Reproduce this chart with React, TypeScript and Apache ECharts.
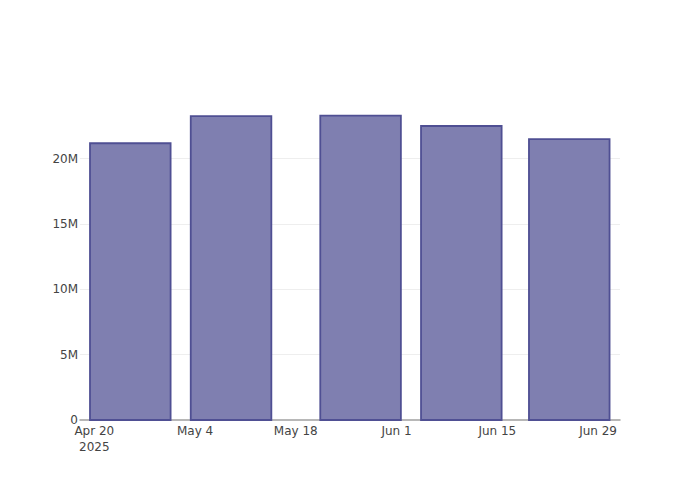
import React, { useEffect, useRef } from "react";
import * as echarts from "echarts";

const dates = ["2025-04-25", "2025-05-09", "2025-05-27", "2025-06-10", "2025-06-25"];
const values = [21.18e6, 23.25e6, 23.29e6, 22.5e6, 21.5e6];
const tickDates = ["2025-04-20", "2025-05-04", "2025-05-18", "2025-06-01", "2025-06-15", "2025-06-29"];
const yTicks = [0, 5e6, 10e6, 15e6, 20e6];

const DAY = 86400000;
const ts = (s: string) => Date.parse(s + "T00:00:00Z");
const MONTHS = ["Jan", "Feb", "Mar", "Apr", "May", "Jun", "Jul", "Aug", "Sep", "Oct", "Nov", "Dec"];

export default function App() {
  const ref = useRef<HTMLDivElement>(null);
  useEffect(() => {
    if (!ref.current) return;
    const chart = echarts.init(ref.current, undefined, { renderer: "svg" });
    const xs = dates.map(ts);
    let minGap = Infinity;
    for (let i = 1; i < xs.length; i++) minGap = Math.min(minGap, xs[i] - xs[i - 1]);
    const half = (minGap * 0.8) / 2;
    const first = ts(tickDates[0]);
    const font = "'DejaVu Sans', Verdana, sans-serif";
    chart.setOption({
      animation: false,
      backgroundColor: "#fff",
      grid: { left: 80, right: 80, top: 100, bottom: 80, containLabel: false },
      xAxis: {
        type: "value",
        min: first - 1.99 * DAY,
        max: first + 73.05 * DAY,
        axisLine: { show: true, onZero: false, lineStyle: { color: "#a0a0a0", width: 1.5 } },
        axisTick: { show: false },
        splitLine: { show: false },
        axisLabel: {
          customValues: tickDates.map(ts),
          color: "#444",
          fontSize: 12,
          fontFamily: font,
          margin: 3,
          lineHeight: 16,
          hideOverlap: false,
          formatter: (v: number) => {
            const d = new Date(v);
            const s = MONTHS[d.getUTCMonth()] + " " + d.getUTCDate();
            return Math.abs(v - first) < DAY / 2 ? s + "\n" + d.getUTCFullYear() : s;
          },
        },
      },
      yAxis: {
        type: "value",
        min: 0,
        max: 24.49e6,
        interval: 5e6,
        axisLine: { show: false },
        axisTick: { show: false },
        splitLine: { show: true, showMinLine: false, showMaxLine: false, lineStyle: { color: "#eeeeee", width: 1 } },
        axisLabel: {
          customValues: yTicks,
          color: "#444",
          fontSize: 12,
          fontFamily: font,
          margin: 2,
          formatter: (v: number) => (v === 0 ? "0" : v / 1e6 + "M"),
        },
      },
      series: [
        {
          type: "custom",
          data: xs.map((x, i) => [x, values[i]]),
          encode: { x: 0, y: 1 },
          renderItem: (params: any, api: any) => {
            const x = api.value(0);
            const y = api.value(1);
            const p0 = api.coord([x - half, y]);
            const p1 = api.coord([x + half, 0]);
            return {
              type: "rect",
              shape: { x: p0[0], y: p0[1], width: p1[0] - p0[0], height: p1[1] - p0[1] },
              style: { fill: "#7f7fb0", stroke: "#4f4f93", lineWidth: 1.8 },
            };
          },
        },
      ],
    });
    return () => chart.dispose();
  }, []);
  return <div ref={ref} style={{ width: 700, height: 500, marginLeft: -8, marginTop: -8 }} />;
}
